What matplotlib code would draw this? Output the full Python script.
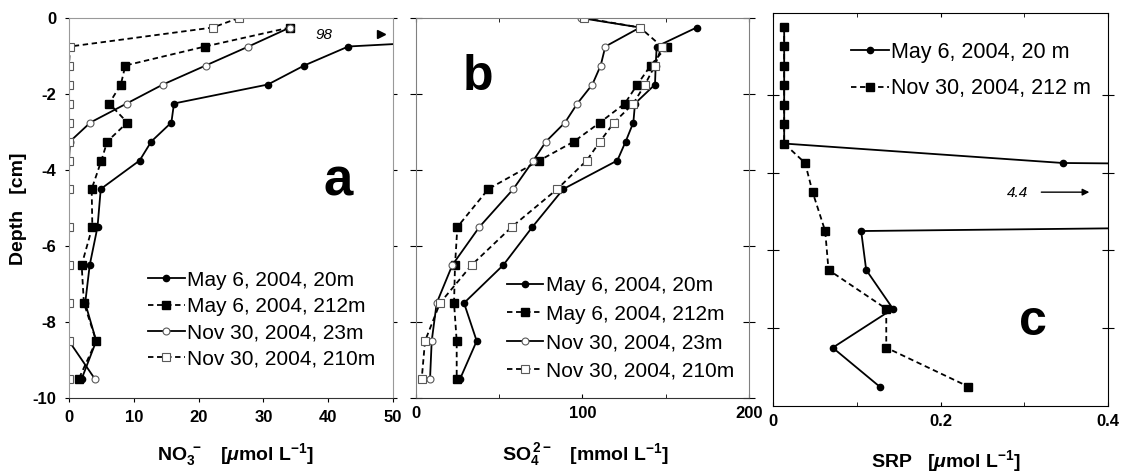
import numpy as np
import matplotlib
matplotlib.use('Agg')
import matplotlib.pyplot as plt
from matplotlib.ticker import MultipleLocator

# ---------------- data ----------------
depth = [-0.25, -0.75, -1.25, -1.75, -2.25, -2.75, -3.25, -3.75, -4.5, -5.5, -6.5, -7.5, -8.5, -9.5]
depth_nov = [0.0, -0.25, -0.75, -1.25, -1.75, -2.25, -2.75, -3.25, -3.75, -4.5, -5.5, -6.5, -7.5, -8.5, -9.5]

# panel a : NO3- [umol/L]
no3_may_20 = [98, 43.1, 36.3, 30.7, 16.2, 15.8, 12.7, 10.9, 4.9, 4.4, 3.2, 2.5, 4.2, 1.95]
no3_may_212 = [34.1, 21.0, 8.7, 8.0, 6.2, 9.0, 5.9, 5.0, 3.5, 3.6, 1.95, 2.3, 4.2, 1.5]
no3_nov_23 = [34.1, 27.7, 21.1, 14.5, 8.9, 3.3, 0.15, 0, 0, 0, 0, 0, 0, 4.0]
no3_nov_210 = [26.2, 22.2, 0.15, 0, 0, 0, 0, 0, 0, 0, 0, 0, 0, 0, 0]

# panel b : SO4 2- [mmol/L]
so4_may_20 = [168.6, 144.6, 144.0, 143.6, 131.6, 130.6, 126.0, 121.0, 88.6, 70.0, 52.6, 29.0, 36.6, 26.6]
so4_may_212 = [np.nan, 150.6, 141.0, 133.0, 125.5, 110.6, 95.0, 74.2, 43.6, 25.0, 23.6, 23.0, 24.6, 24.6]
so4_nov_23 = [99.0, 134.6, 113.8, 111.0, 106.0, 97.0, 89.6, 78.2, 70.6, 58.6, 38.2, 22.0, 12.6, 9.6, 8.6]
so4_nov_210 = [101.0, 134.6, 147.6, 143.6, 137.6, 130.6, 119.0, 110.6, 102.6, 85.0, 57.6, 33.6, 14.6, 5.6, 3.6]

# panel c : SRP [umol/L]
srp_may_20 = [0.013, 0.013, 0.013, 0.013, 0.013, 0.013, 0.013, 0.346, 4.4, 0.105, 0.111, 0.143, 0.071, 0.127]
srp_nov_212 = [0.013, 0.013, 0.013, 0.013, 0.013, 0.013, 0.013, 0.038, 0.047, 0.062, 0.066, 0.135, 0.135, 0.233]

labels_ab = ["May 6, 2004, 20m", "May 6, 2004, 212m", "Nov 30, 2004, 23m", "Nov 30, 2004, 210m"]
labels_c = ["May 6, 2004, 20 m", "Nov 30, 2004, 212 m"]

# ---------------- style ----------------
REG = ['Liberation Sans', 'DejaVu Sans']
plt.rcParams['font.family'] = REG
plt.rcParams['axes.unicode_minus'] = False
plt.rcParams['mathtext.fontset'] = 'custom'
plt.rcParams['mathtext.rm'] = 'Liberation Sans:bold'
plt.rcParams['mathtext.it'] = 'Liberation Sans:bold:italic'
plt.rcParams['mathtext.bf'] = 'Liberation Sans:bold'

s_may20 = dict(color='black', ls='-', lw=1.3, marker='o', ms=4.5, mfc='black', mec='black')
s_may212 = dict(color='black', ls=(0, (3, 2)), lw=1.3, marker='s', ms=5.5, mfc='black', mec='black')
s_nov23 = dict(color='black', ls='-', lw=1.3, marker='o', ms=5, mfc='white', mec='0.35', mew=0.8)
s_nov210 = dict(color='black', ls=(0, (3, 2)), lw=1.3, marker='s', ms=6, mfc='white', mec='0.35', mew=0.8)

W, H = 1121, 475
fig = plt.figure(figsize=(W / 100, H / 100), dpi=100)


def add_ax(l, t, r, b):
    return fig.add_axes([l / W, 1 - b / H, (r - l) / W, (b - t) / H])


def ftext(x, y, s, **kw):
    return fig.text(x / W, 1 - y / H, s, **kw)


def tick_font(ax):
    for lab in ax.get_xticklabels() + ax.get_yticklabels():
        lab.set_fontweight('bold')
        lab.set_fontsize(12)


leg_kw = dict(frameon=False, handlelength=1.75, handletextpad=0.1,
              borderpad=0, borderaxespad=0, loc='upper left')

# ---------------- panel a ----------------
axa = add_ax(69, 18, 393, 398)
axa.plot(no3_may_20, depth, label=labels_ab[0], **s_may20)
axa.plot(no3_may_212, depth, label=labels_ab[1], **s_may212)
axa.plot(no3_nov_23, depth, label=labels_ab[2], **s_nov23)
axa.plot(no3_nov_210, depth_nov, label=labels_ab[3], **s_nov210)
axa.set_xlim(0, 50)
axa.set_ylim(-10, 0)
axa.xaxis.set_major_locator(MultipleLocator(10))
axa.yaxis.set_major_locator(MultipleLocator(2))
axa.tick_params(axis='y', which='both', left=True, right=True, direction='out', length=3, pad=6)
axa.tick_params(axis='x', direction='out', length=3, pad=6)
for sp in ['left', 'top', 'right']:
    axa.spines[sp].set_color('0.6')
axa.spines['bottom'].set_color('0.2')
tick_font(axa)
axa.legend(bbox_to_anchor=(0.244, 0.335), labelspacing=0.35, fontsize=15, **leg_kw)
axa.text(41.5, -4.3, 'a', fontsize=38, fontweight='bold', ha='center', va='center')
axa.text(39.3, -0.45, '98', fontsize=11, style='italic', ha='center', va='center')
axa.plot([48.2], [-0.42], marker='>', color='black', ms=6, ls='none', clip_on=False)

# ---------------- panel b ----------------
axb = add_ax(415.7, 18, 749, 398)
axb.plot(so4_may_20, depth, label=labels_ab[0], **s_may20)
axb.plot(so4_may_212, depth, label=labels_ab[1], **s_may212)
axb.plot(so4_nov_23, depth_nov, label=labels_ab[2], **s_nov23)
axb.plot(so4_nov_210, depth_nov, label=labels_ab[3], **s_nov210)
axb.set_xlim(0, 200)
axb.set_ylim(-10, 0)
axb.xaxis.set_major_locator(MultipleLocator(100))
axb.xaxis.set_minor_locator(MultipleLocator(50))
axb.yaxis.set_major_locator(MultipleLocator(2))
axb.tick_params(axis='y', which='both', left=True, right=True, direction='inout', length=8,
                labelleft=False)
axb.tick_params(axis='x', which='both', top=True, bottom=True, direction='in', length=3, pad=6)
for sp in ['left', 'top', 'right']:
    axb.spines[sp].set_color('0.5')
axb.spines['bottom'].set_color('0.2')
tick_font(axb)
axb.legend(bbox_to_anchor=(0.274, 0.32), labelspacing=0.45, fontsize=15, **leg_kw)
axb.text(37.4, -1.55, 'b', fontsize=36, fontweight='bold', ha='center', va='center')

# ---------------- panel c ----------------
axc = add_ax(773.3, 13.3, 1108, 406)
axc.plot(srp_may_20, depth, label=labels_c[0], **s_may20)
axc.plot(srp_nov_212, depth, label=labels_c[1], **s_may212)
axc.set_xlim(0, 0.4)
axc.set_ylim(-10, 0.1)
axc.xaxis.set_minor_locator(MultipleLocator(0.1))
axc.set_xticks([0, 0.2, 0.4])
axc.set_xticklabels(['0', '0.2', '0.4'])
axc.set_yticks([-8, -6, -4, -2])
axc.tick_params(axis='y', which='both', left=True, right=True, direction='inout', length=8,
                labelleft=False)
axc.tick_params(axis='x', which='both', top=True, bottom=True, direction='in', length=3, pad=6)
tick_font(axc)
axc.legend(bbox_to_anchor=(0.232, 0.927), labelspacing=0.72, fontsize=15.5, **leg_kw)
axc.text(0.31, -7.85, 'c', fontsize=36, fontweight='bold', ha='center', va='center')
axc.text(0.292, -4.52, '4.4', fontsize=11, style='italic', ha='center', va='center')
axc.annotate('', xy=(0.381, -4.5), xytext=(0.317, -4.5),
             arrowprops=dict(arrowstyle='-|>', color='black', lw=1, mutation_scale=10))

# ---------------- axis titles ----------------
ftext(19, 209, 'Depth   [cm]', rotation=90, fontsize=14, fontweight='bold', ha='center', va='center')
ftext(235, 460, 'NO$_3^{\\,\\,-}$   [$\\mu$mol L$^{-1}$]', fontsize=14, fontweight='bold',
      ha='center', va='baseline')
ftext(585, 460, 'SO$_4^{\\,2-}$   [mmol L$^{-1}$]', fontsize=14, fontweight='bold',
      ha='center', va='baseline')
ftext(946, 467, 'SRP   [$\\mu$mol L$^{-1}$]', fontsize=14, fontweight='bold',
      ha='center', va='baseline')

fig.savefig('out.png', dpi=100)
